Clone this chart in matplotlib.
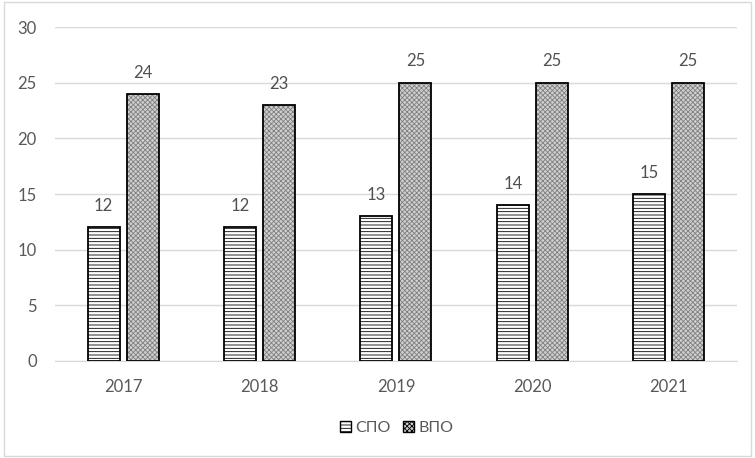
import matplotlib.pyplot as plt
import numpy as np
from matplotlib.patches import Rectangle, Patch

years = ['2017', '2018', '2019', '2020', '2021']
spo = [12, 12, 13, 14, 15]
vpo = [24, 23, 25, 25, 25]

plt.rcParams['font.family'] = ['Lato', 'DejaVu Sans']
grey = '#595959'

fig = plt.figure(figsize=(7.55, 4.58), dpi=100)
ax = fig.add_axes([0.0728, 0.2118, 0.9033, 0.729])

x = np.arange(len(years))
w = 0.235
d = 0.143

# СПО: horizontal lines
plt.rcParams['hatch.linewidth'] = 0.6
b1 = ax.bar(x - d, spo, w, color='white', edgecolor='black', linewidth=1.3,
            hatch='-----', zorder=3)
# ВПО: fine grey checker fill, then black outline on top
ax.bar(x + d, vpo, w, color='#d0d0d0', edgecolor='#808080', linewidth=0,
       hatch='xxxxxxx', zorder=3)
b2 = ax.bar(x + d, vpo, w, fill=False, edgecolor='black', linewidth=1.3, zorder=4)

for bars, vals in ((b1, spo), (b2, vpo)):
    for r, v in zip(bars, vals):
        ax.text(r.get_x() + r.get_width() / 2, v + 1.2, str(v),
                ha='center', va='bottom', fontsize=12, color='#505050')

ax.set_xlim(-0.5, 4.5)
ax.set_ylim(0, 30)
ax.set_yticks(range(0, 31, 5))
ax.set_xticks(x)
ax.set_xticklabels(years)
ax.grid(axis='y', color='#d9d9d9', linewidth=1, zorder=0)
for s in ('top', 'right', 'left'):
    ax.spines[s].set_visible(False)
ax.spines['bottom'].set_color('#d9d9d9')
ax.tick_params(length=0, labelsize=12, colors=grey)
ax.tick_params(axis='x', pad=13)
ax.tick_params(axis='y', pad=13)

h1 = Patch(facecolor='white', edgecolor='black', hatch='-----', label='СПО')
h2 = Patch(facecolor='#d0d0d0', edgecolor='black', hatch='xxxxxxx', label='ВПО')
leg = fig.legend(handles=[h1, h2], loc='center', bbox_to_anchor=(0.525, 0.065),
                 ncol=2, frameon=False, fontsize=11.5, handlelength=0.7,
                 handleheight=0.7, handletextpad=0.25, columnspacing=0.8)
for t in leg.get_texts():
    t.set_color(grey)

fig.patches.append(Rectangle((0.005, 0.005), 0.99, 0.99, transform=fig.transFigure,
                             fill=False, edgecolor='#d9d9d9', linewidth=1))

fig.savefig('out.png', dpi=100)
